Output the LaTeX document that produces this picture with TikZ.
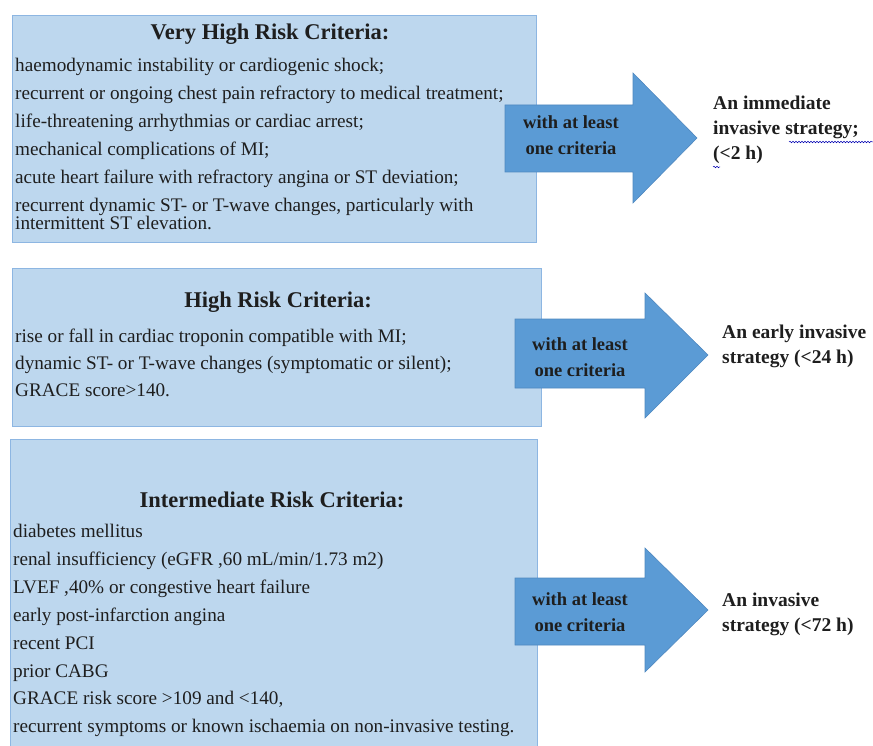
\documentclass[tikz,border=0pt]{standalone}
\usepackage{fontspec}
\setmainfont{Liberation Serif}
\usetikzlibrary{decorations.pathmorphing}
\definecolor{boxfill}{HTML}{BDD7EE}
\definecolor{boxline}{HTML}{8DB6E2}
\definecolor{arrowfill}{HTML}{5B9BD5}
\definecolor{arrowline}{HTML}{4F88C0}
\definecolor{ink}{HTML}{1E1E1E}
\tikzset{
  riskbox/.style={draw=boxline, fill=boxfill, line width=1.3pt, inner sep=0pt, anchor=north west},
  bigarrow/.style={draw=arrowline, fill=arrowfill, line width=0.6pt},
  boxtitle/.style={font=\fontsize{22.5}{26}\selectfont\bfseries, text=ink, inner sep=0pt},
  itemlist/.style={font=\fontsize{19.2}{18.6}\selectfont, text=ink, align=left, anchor=north west, inner sep=0pt},
  arrowlabel/.style={font=\fontsize{18.5}{26}\selectfont\bfseries, text=ink, align=center, inner sep=0pt},
  outcome/.style={font=\fontsize{19.5}{25}\selectfont\bfseries, text=ink, align=left, anchor=west, inner sep=0pt},
  proofmark/.style={blue!70!black, line width=0.5pt, decorate, decoration={snake, amplitude=0.8pt, segment length=3pt}},
}
\begin{document}
\begin{tikzpicture}[x=1pt,y=-1pt]
\useasboundingbox (0,0) rectangle (873,746);
\fill[white] (0,0) rectangle (873,746);

% criteria boxes
\node[riskbox, minimum width=524pt, minimum height=227pt] (vbox) at (12,15) {};
\node[riskbox, minimum width=529pt, minimum height=158pt] (hbox) at (12,268) {};
\node[riskbox, minimum width=527pt, minimum height=320pt] (ibox) at (10,439) {};

% very high risk
\node[boxtitle] (vtitle) at (270,34) {Very High Risk Criteria:};
\node[itemlist] (vlist) at (15,58) {%
haemodynamic instability or cardiogenic shock;\\[9.3pt]
recurrent or ongoing chest pain refractory to medical treatment;\\[9.3pt]
life-threatening arrhythmias or cardiac arrest;\\[9.3pt]
mechanical complications of MI;\\[9.3pt]
acute heart failure with refractory angina or ST deviation;\\[9.3pt]
recurrent dynamic ST- or T-wave changes, particularly with\\
intermittent ST elevation.};

% high risk
\node[boxtitle] (htitle) at (278,302) {High Risk Criteria:};
\node[itemlist] (hlist) at (15,329) {%
rise or fall in cardiac troponin compatible with MI;\\[8.4pt]
dynamic ST- or T-wave changes (symptomatic or silent);\\[8.4pt]
GRACE score>140.};

% intermediate risk
\node[boxtitle] (ititle) at (272,500) {Intermediate Risk Criteria:};
\node[itemlist] (ilist) at (13,524) {%
diabetes mellitus\\[9.3pt]
renal insufficiency (eGFR ,60 mL/min/1.73 m2)\\[9.3pt]
LVEF ,40\% or congestive heart failure\\[9.3pt]
early post-infarction angina\\[9.3pt]
recent PCI\\[9.3pt]
prior CABG\\[9.3pt]
GRACE risk score >109 and <140,\\[9.3pt]
recurrent symptoms or known ischaemia on non-invasive testing.};

% block arrows
\draw[bigarrow] (505,105) -- (633,105) -- (633,73) -- (697,138) -- (633,203) -- (633,172) -- (505,172) -- cycle;
\draw[bigarrow] (515,319) -- (645,319) -- (645,293) -- (708,355) -- (645,418) -- (645,388) -- (515,388) -- cycle;
\draw[bigarrow] (515,578) -- (645,578) -- (645,548) -- (708,610) -- (645,672) -- (645,645) -- (515,645) -- cycle;

\node[arrowlabel] (a1) at (571,135) {with at least\\one criteria};
\node[arrowlabel] (a2) at (580,357) {with at least\\one criteria};
\node[arrowlabel] (a3) at (580,612) {with at least\\one criteria};

% strategies
\node[outcome] (o1) at (713,130) {An immediate\\invasive strategy;\\(<2 h)};
\node[outcome] (o2) at (722,346) {An early invasive\\strategy (<24 h)};
\node[outcome] (o3) at (722,614) {An invasive\\strategy (<72 h)};

% proofing squiggles under the flagged words
\draw[proofmark] (789,142) -- (873,142);
\draw[proofmark] (713,167) -- (720,167);
\end{tikzpicture}
\end{document}
